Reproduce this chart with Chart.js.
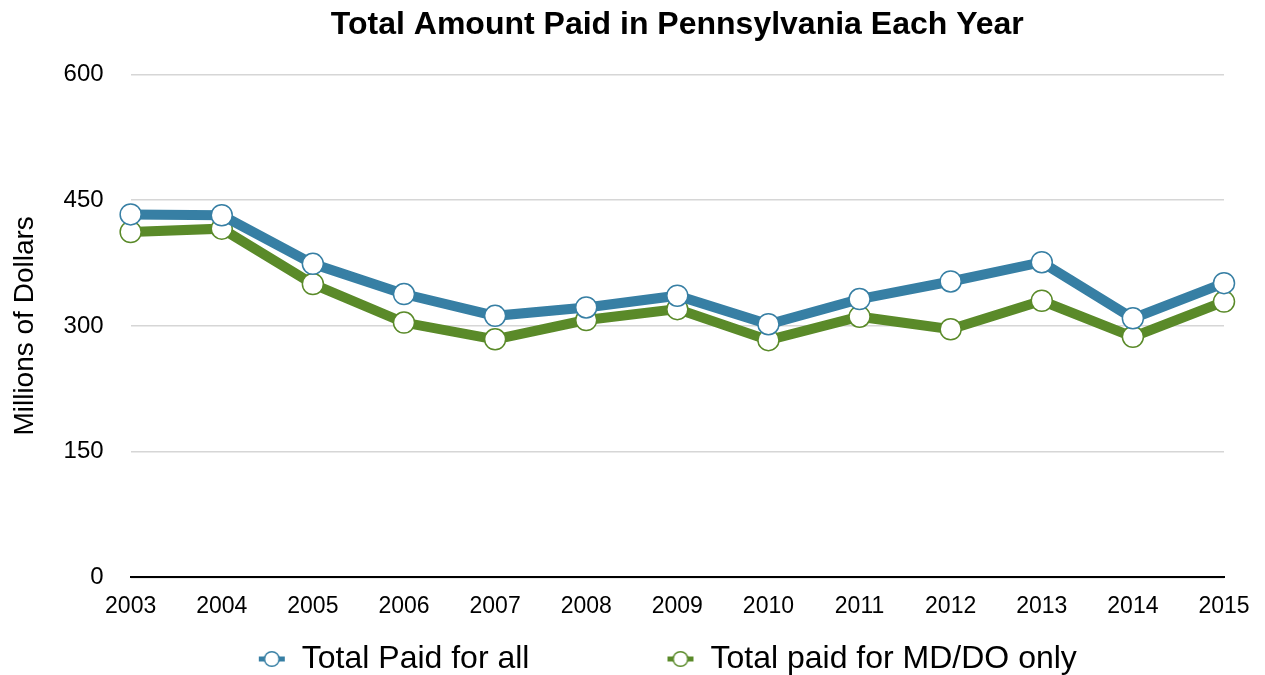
<!DOCTYPE html>
<html>
<head>
<meta charset="utf-8">
<script src="https://cdn.jsdelivr.net/npm/chart.js@4/dist/chart.umd.min.js"></script>
<style>
html,body{margin:0;padding:0;background:#fff;}
#wrap{width:1265px;height:675px;}
</style>
</head>
<body>
<div id="wrap"><canvas id="c" width="1265" height="675"></canvas></div>
<script>
const categories = ["2003","2004","2005","2006","2007","2008","2009","2010","2011","2012","2013","2014","2015"];
const totalPaidAll = [433,432,374,338,312,322,336,302,332,353,376,309,351];
const totalPaidMDDO = [412,416,350,304,284,307,320,283,311,296,330,287,329];
const yTicks = [0,150,300,450,600];
const seriesNames = ["Total Paid for all","Total paid for MD/DO only"];
const colors = ["#377fa4","#5a8a29"];

function legendIcon(color){
  const cv = document.createElement('canvas');
  cv.width = 28; cv.height = 18;
  const g = cv.getContext('2d');
  g.strokeStyle = color; g.lineWidth = 5;
  g.beginPath(); g.moveTo(1,9); g.lineTo(27,9); g.stroke();
  g.fillStyle = '#fff'; g.lineWidth = 1.5;
  g.beginPath(); g.arc(14,9,7.3,0,Math.PI*2); g.fill(); g.stroke();
  return cv;
}
const icons = colors.map(legendIcon);

const FONT = "'Liberation Sans', Arial, Helvetica, sans-serif";
const LEGEND_GAP = 137;
const FIT_SHIFT = 131;
const DRAW_SHIFT = 121;

const legendFix = {
  id: 'legendFix',
  beforeInit(chart){
    const lg = chart.legend;
    if (!lg) return;
    const of = lg.fit;
    lg.fit = function(){ of.call(this); if (this.height > FIT_SHIFT) this.height -= FIT_SHIFT; };
    const od = lg.draw;
    lg.draw = function(){
      const L = this.left, R = this.right, T = this.top;
      const ca = chart.chartArea;
      this.left = ca.left - 20; this.right = ca.right; this.top = T - DRAW_SHIFT;
      od.call(this);
      this.left = L; this.right = R; this.top = T;
    };
  }
};

new Chart(document.getElementById('c'), {
  type: 'line',
  data: {
    labels: categories,
    datasets: [
      {label: seriesNames[0], data: totalPaidAll, borderColor: colors[0], backgroundColor:'#fff',
       borderWidth: 10, pointRadius: 10.5, pointBorderWidth: 1.5, pointBackgroundColor:'#fff',
       pointBorderColor: colors[0], tension: 0, pointHoverRadius:10.5},
      {label: seriesNames[1], data: totalPaidMDDO, borderColor: colors[1], backgroundColor:'#fff',
       borderWidth: 10, pointRadius: 10.5, pointBorderWidth: 1.5, pointBackgroundColor:'#fff',
       pointBorderColor: colors[1], tension: 0, pointHoverRadius:10.5}
    ]
  },
  plugins: [legendFix],
  options: {
    responsive: false,
    animation: false,
    devicePixelRatio: 1,
    layout: {padding: {left: 4, right: 41, top: 0, bottom: 0}},
    plugins: {
      title: {display: true, fullSize: false, text: 'Total Amount Paid in Pennsylvania Each Year', color:'#000',
        font: {family: FONT, size: 32, weight: 'bold'}, padding: {top: 6, bottom: 30}},
      legend: {position: 'bottom', fullSize: true, labels: {
        color:'#000', font:{family: FONT, size: 32}, padding: LEGEND_GAP, boxWidth: 28,
        usePointStyle: true, pointStyleWidth: 28,
        generateLabels: (chart) => chart.data.datasets.map((d,i)=>({
          text: d.label, pointStyle: icons[i], fillStyle:'#fff', strokeStyle: colors[i],
          lineWidth: 0, datasetIndex: i, hidden: false, fontColor:'#000'}))
      }},
      tooltip: {enabled: false}
    },
    scales: {
      x: {
        offset: false,
        grid: {display: false},
        border: {display: true, color: '#000', width: 2},
        ticks: {color:'#000', font:{family: FONT, size: 23}, padding: 7, maxRotation: 0}
      },
      y: {
        min: 0, max: 600,
        afterBuildTicks: (ax) => { ax.ticks = yTicks.map(v=>({value:v})); },
        grid: {color:'#d6d6d6', lineWidth: 1.5, drawTicks: false},
        border: {display: false},
        ticks: {color:'#000', font:{family: FONT, size: 24}, padding: 27},
        title: {display: true, text: 'Millions of Dollars', color:'#000',
          font:{family: FONT, size: 28}, padding: {top: 4, bottom: -5}}
      }
    }
  }
});
</script>
</body>
</html>
